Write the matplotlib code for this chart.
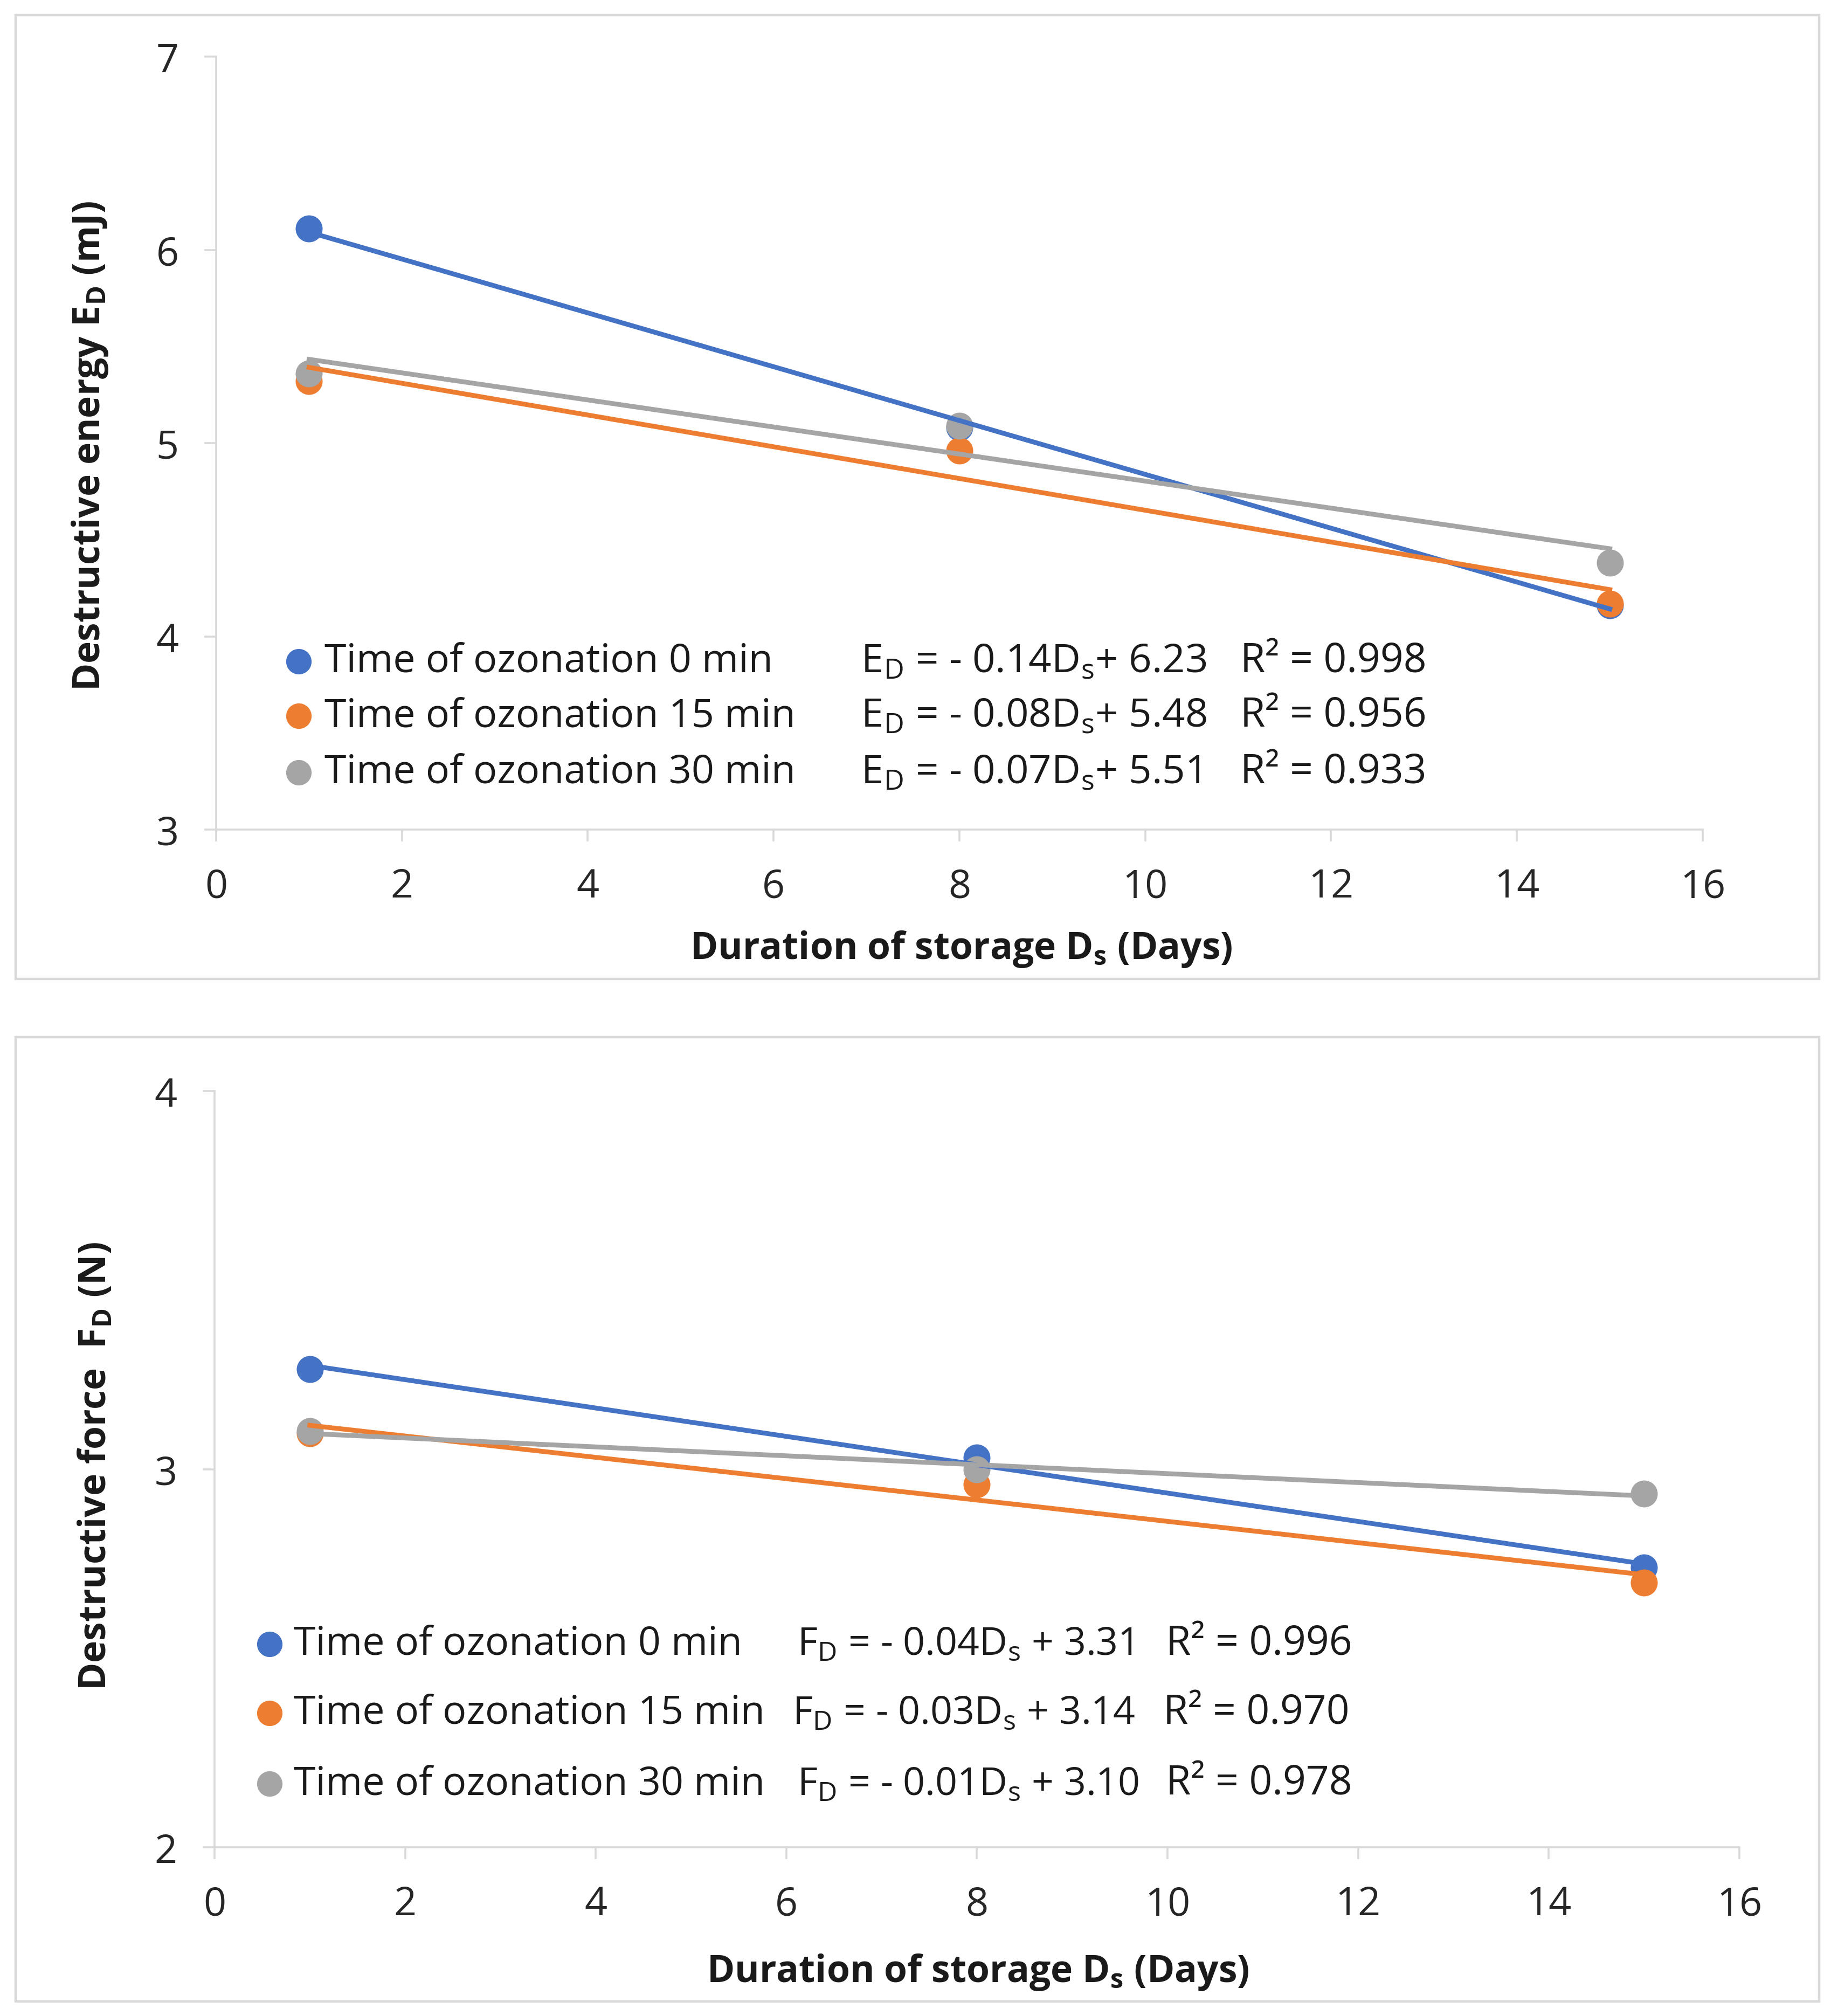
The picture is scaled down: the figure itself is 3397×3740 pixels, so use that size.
import numpy as np
import matplotlib
matplotlib.use("Agg")
import matplotlib.pyplot as plt
from matplotlib.patches import Rectangle

plt.rcParams['font.family'] = ['Open Sans', 'DejaVu Sans']
plt.rcParams['mathtext.fontset'] = 'custom'
plt.rcParams['mathtext.rm'] = 'Open Sans'
plt.rcParams['mathtext.bf'] = 'Open Sans:bold'

# data
days = [1, 8, 15]
series_names = ['Time of ozonation 0 min', 'Time of ozonation 15 min', 'Time of ozonation 30 min']
colors = ['#4472C4', '#ED7D31', '#A5A5A5']

energy_0 = [6.11, 5.08, 4.16]
energy_15 = [5.32, 4.96, 4.17]
energy_30 = [5.36, 5.09, 4.38]
energy_eq = ['E$_\\mathregular{D}$ = - 0.14D$_\\mathregular{s}$+ 6.23',
             'E$_\\mathregular{D}$ = - 0.08D$_\\mathregular{s}$+ 5.48',
             'E$_\\mathregular{D}$ = - 0.07D$_\\mathregular{s}$+ 5.51']
energy_r2 = ['R² = 0.998', 'R² = 0.956', 'R² = 0.933']

force_0 = [3.265, 3.03, 2.74]
force_15 = [3.095, 2.96, 2.70]
force_30 = [3.10, 3.00, 2.935]
force_eq = ['F$_\\mathregular{D}$ = - 0.04D$_\\mathregular{s}$ + 3.31',
            'F$_\\mathregular{D}$ = - 0.03D$_\\mathregular{s}$ + 3.14',
            'F$_\\mathregular{D}$ = - 0.01D$_\\mathregular{s}$ + 3.10']
force_r2 = ['R² = 0.996', 'R² = 0.970', 'R² = 0.978']

W, H = 3398, 3741
DPI = 200
FS = 26.5
TXT = '#1a1a1a'
fig = plt.figure(figsize=(W / DPI, H / DPI), dpi=DPI)

# panel frames
for y0, y1 in [(29, 1817), (1925, 3714)]:
    fig.patches.append(Rectangle((29 / W, 1 - y1 / H), (3375 - 29) / W, (y1 - y0) / H,
                                 transform=fig.transFigure, fill=False,
                                 edgecolor='#d9d9d9', linewidth=1.6))


def axes_px(l, r, t, b):
    return fig.add_axes([l / W, 1 - b / H, (r - l) / W, (b - t) / H])


def style(ax):
    for s in ['top', 'right']:
        ax.spines[s].set_visible(False)
    for s in ['left', 'bottom']:
        ax.spines[s].set_color('#d9d9d9')
        ax.spines[s].set_linewidth(1.3)
    ax.tick_params(colors='#d9d9d9', labelcolor='#262626', labelsize=26.5,
                   length=8, width=1.3, pad=17)


def draw_panel(ax, ys, eqs, r2s, leg, eq_fs):
    for y, c in zip(ys, colors):
        ax.plot(days, y, 'o', color=c, markersize=17, zorder=3)
    for y, c in zip(ys, colors):
        k, b = np.polyfit(days, y, 1)
        xx = np.array([days[0], days[-1]])
        ax.plot(xx, k * xx + b, '-', color=c, linewidth=3.2, zorder=4)
    mx, tx, ex, rx, rows = leg
    for i in range(3):
        ax.plot([mx], [rows[i]], 'o', color=colors[i], markersize=16,
                transform=ax.transAxes, clip_on=False)
        ax.text(tx, rows[i], series_names[i], transform=ax.transAxes,
                fontsize=FS, color=TXT, va='center')
        ax.text(ex[i], rows[i], eqs[i], transform=ax.transAxes,
                fontsize=eq_fs, color=TXT, va='center')
        ax.text(rx[i], rows[i], r2s[i], transform=ax.transAxes,
                fontsize=FS + 0.5, color=TXT, va='center')


def labels(ax, xl, yl, xpos, ypos):
    ax.set_xlabel(xl, fontsize=25, fontweight='bold', color=TXT)
    ax.set_ylabel(yl, fontsize=25, fontweight='bold', color=TXT)
    ax.xaxis.label.set_va('center')
    ax.yaxis.label.set_va('center')
    ax.xaxis.set_label_coords(*xpos)
    ax.yaxis.set_label_coords(*ypos)


# top panel
ax1 = axes_px(401, 3159, 106, 1540)
style(ax1)
draw_panel(ax1, [energy_0, energy_15, energy_30], energy_eq, energy_r2,
           (0.0555, 0.073, [0.4335] * 3, [0.689] * 3, [0.2176, 0.147, 0.074]), 26.8)
ax1.set_xlim(0, 16)
ax1.set_ylim(3, 7)
ax1.set_xticks(range(0, 17, 2))
ax1.set_yticks(range(3, 8))
labels(ax1, 'Duration of storage D$_\\mathbf{s}$ (Days)',
       'Destructive energy E$_\\mathbf{D}$ (mJ)', (0.501, -0.154), (-0.0848, 0.497))

# bottom panel
ax2 = axes_px(398, 3227, 2025, 3428)
style(ax2)
draw_panel(ax2, [force_0, force_15, force_30], force_eq, force_r2,
           (0.036, 0.052, [0.382, 0.379, 0.382], [0.624, 0.622, 0.624],
            [0.269, 0.1775, 0.084]), 25.8)
ax2.set_xlim(0, 16)
ax2.set_ylim(2, 4)
ax2.set_xticks(range(0, 17, 2))
ax2.set_yticks([2, 3, 4])
labels(ax2, 'Duration of storage D$_\\mathbf{s}$ (Days)',
       'Destructive force  F$_\\mathbf{D}$ (N)', (0.5005, -0.165), (-0.0774, 0.505))

fig.savefig('out.png', dpi=DPI, facecolor='white')
